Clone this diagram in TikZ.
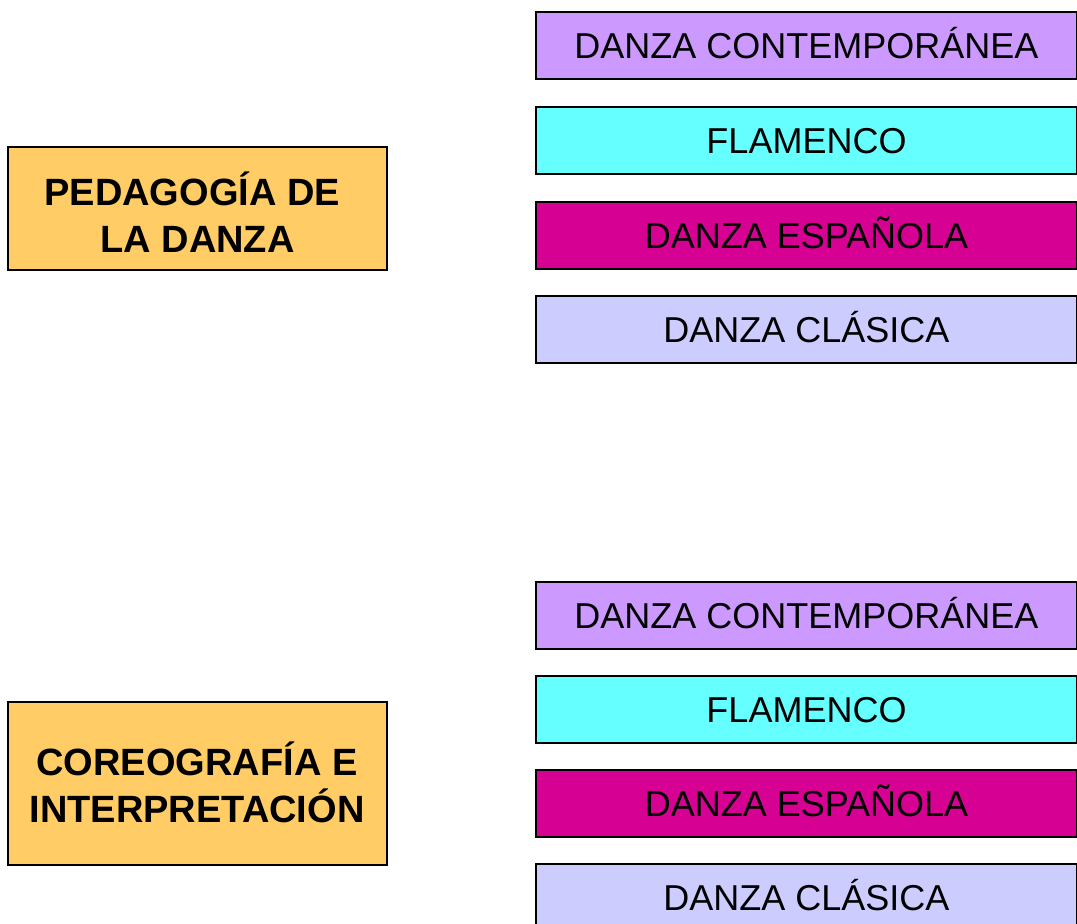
\documentclass[tikz,border=0pt]{standalone}
\usepackage{fontspec}
\setmainfont{Liberation Sans}
\usepackage{tikz}

\definecolor{boxorange}{HTML}{FFCC66}
\definecolor{boxviolet}{HTML}{CC99FF}
\definecolor{boxcyan}{HTML}{66FFFF}
\definecolor{boxmagenta}{HTML}{D60093}
\definecolor{boxlilac}{HTML}{CCCCFF}

\begin{document}
\begin{tikzpicture}[x=1pt,y=1pt,yscale=-1,xscale=1,
  mainbox/.style={draw=black,line width=2pt,fill=boxorange,minimum width=379pt,inner sep=0pt},
  maintext/.style={align=center,inner sep=0pt,anchor=base,font=\fontsize{38}{46.5}\selectfont\bfseries},
  subbox/.style={draw=black,line width=2pt,minimum width=541pt,minimum height=67pt,inner sep=0pt,
    font=\fontsize{36}{43}\selectfont,text height=26pt,text depth=0pt}]
\useasboundingbox (0,0) rectangle (1077,924);

%Shape: Rectangle [pedagogia]
\node[mainbox,minimum height=123pt] (pedag) at (197.5,208.5) {};
% Text Node
\node[maintext] (pedagtxt) at (197.5,252) {PEDAGOGÍA DE\kern0.28em\\LA DANZA};

%Shape: Rectangle [coreografia]
\node[mainbox,minimum height=163pt] (coreo) at (197.5,783.5) {};
% Text Node
\node[maintext] (coreotxt) at (197,822) {COREOGRAFÍA E\\INTERPRETACIÓN};

%Upper column of styles
\node[subbox,fill=boxviolet] (contA) at (806.5,45.5) {DANZA CONTEMPORÁNEA};
\node[subbox,fill=boxcyan] (flamA) at (806.5,140.5) {FLAMENCO};
\node[subbox,fill=boxmagenta] (espA) at (806.5,235.5) {DANZA ESPAÑOLA};
\node[subbox,fill=boxlilac] (clasA) at (806.5,329.5) {DANZA CLÁSICA};

%Lower column of styles
\node[subbox,fill=boxviolet] (contB) at (806.5,615.5) {DANZA CONTEMPORÁNEA};
\node[subbox,fill=boxcyan] (flamB) at (806.5,709.5) {FLAMENCO};
\node[subbox,fill=boxmagenta] (espB) at (806.5,803.5) {DANZA ESPAÑOLA};
\node[subbox,fill=boxlilac] (clasB) at (806.5,897.5) {DANZA CLÁSICA};

\end{tikzpicture}
\end{document}
